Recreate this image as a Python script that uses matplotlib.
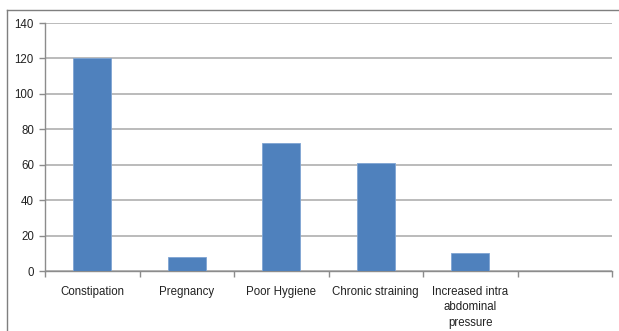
import numpy as np
import matplotlib.pyplot as plt
from matplotlib.lines import Line2D

plt.rcParams['font.family'] = ['Liberation Sans', 'DejaVu Sans']

# Causes and number of cases
causes = ["Constipation", "Pregnancy", "Poor Hygiene", "Chronic straining",
          "Increased intra\nabdominal\npressure", ""]
cases = [120, 8, 72, 61, 10, 0]
y_ticks = [0, 20, 40, 60, 80, 100, 120, 140]

W, H = 619, 331
fig = plt.figure(figsize=(W / 100, H / 100), dpi=100)
ax = fig.add_axes([45 / W, 1 - 271 / H, (612 - 45) / W, (271 - 23) / H])

x = np.arange(len(causes))
ax.bar(x[:5], cases[:5], width=0.4, color='#4F81BD',
       edgecolor='#7fa4d3', linewidth=0.6, zorder=3)

ax.set_xlim(-0.5, len(causes) - 0.5)
ax.set_ylim(0, 140)
ax.set_yticks(y_ticks)
ax.set_yticklabels([str(v) for v in y_ticks], fontsize=8.3, color='#222222')
ax.yaxis.grid(True, color='#b5b5b5', linewidth=1.3, zorder=0)

# category labels centred in each slot, tick marks on the slot edges
ax.set_xticks(x)
ax.set_xticklabels(causes, fontsize=8.3, color='#222222', linespacing=1.35,
                   va='top')
ax.tick_params(axis='x', length=0, pad=11)
ax.set_xticks(np.arange(len(causes) + 1) - 0.5, minor=True)
ax.tick_params(axis='x', which='minor', length=4, color='#8c8c8c', width=1)
ax.tick_params(axis='y', length=4, color='#8c8c8c', width=1, pad=4)

for side in ['top', 'right']:
    ax.spines[side].set_visible(False)
for side in ['left', 'bottom']:
    ax.spines[side].set_color('#8c8c8c')
    ax.spines[side].set_linewidth(1)

# outer chart frame
fig.add_artist(Line2D([7 / W, 7 / W], [0, 1 - 9.5 / H],
                      transform=fig.transFigure, color='#7f7f7f', lw=1))
fig.add_artist(Line2D([7 / W, 1], [1 - 9.5 / H, 1 - 9.5 / H],
                      transform=fig.transFigure, color='#7f7f7f', lw=1))

fig.savefig('out.png', dpi=100)
